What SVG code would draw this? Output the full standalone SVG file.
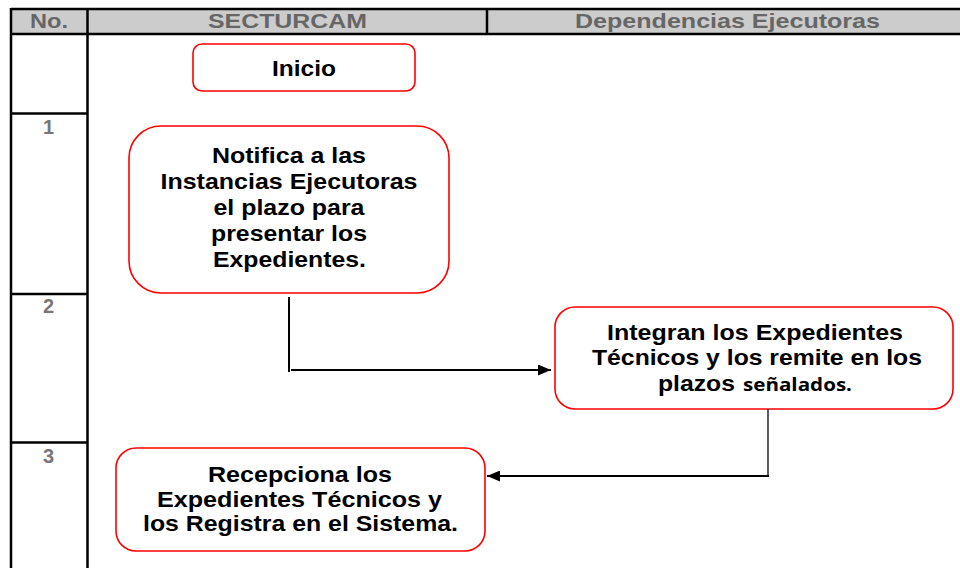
<svg xmlns="http://www.w3.org/2000/svg" width="960" height="568" viewBox="0 0 960 568">
  <defs>
    <style>
      .grid { stroke: #000; stroke-width: 2.5; fill: none; }
      .hdr { font-family: "Liberation Sans", Arial, sans-serif; font-weight: bold; font-size: 21px; fill: #666; text-anchor: middle; }
      .num { font-family: "Liberation Sans", Arial, sans-serif; font-weight: bold; font-size: 20px; fill: #777; text-anchor: middle; }
      .box { fill: #fff; stroke: #ff0000; stroke-width: 1.6; }
      .lbl { font-family: "Liberation Sans", Arial, sans-serif; font-weight: bold; font-size: 22px; fill: #000; text-anchor: middle; }
      .cal { font-family: "Open Sans", "Liberation Sans", sans-serif; font-weight: bold; font-size: 17px; }
      .conn { stroke: #000; stroke-width: 2; fill: none; }
    </style>
    <marker id="arrow" markerWidth="13" markerHeight="11" refX="13" refY="5.5" orient="auto" markerUnits="userSpaceOnUse">
      <path d="M0,0 L13,5.5 L0,11 Z" fill="#000"/>
    </marker>
  </defs>
  <rect width="960" height="568" fill="#fff"/>

  <g id="table">
    <rect x="11" y="9" width="960" height="25" fill="#cccccc"/>
    <line class="grid" x1="11" y1="9" x2="962" y2="9"/>
    <line class="grid" x1="11" y1="34" x2="962" y2="34"/>
    <line class="grid" x1="11" y1="8" x2="11" y2="568"/>
    <line class="grid" x1="87.5" y1="8" x2="87.5" y2="568"/>
    <line class="grid" x1="487" y1="8" x2="487" y2="35"/>
    <line class="grid" x1="11" y1="113.5" x2="87.5" y2="113.5"/>
    <line class="grid" x1="11" y1="294" x2="87.5" y2="294"/>
    <line class="grid" x1="11" y1="442.5" x2="87.5" y2="442.5"/>
    <text class="hdr" x="49" y="28" textLength="38" lengthAdjust="spacingAndGlyphs">No.</text>
    <text class="hdr" x="287.5" y="28" textLength="159" lengthAdjust="spacingAndGlyphs">SECTURCAM</text>
    <text class="hdr" x="727.5" y="28" textLength="305" lengthAdjust="spacingAndGlyphs">Dependencias Ejecutoras</text>
    <text class="num" x="48.5" y="134">1</text>
    <text class="num" x="48.5" y="313">2</text>
    <text class="num" x="48.5" y="463">3</text>
  </g>

  <g id="inicio">
    <rect class="box" x="193" y="44" width="222" height="47" rx="9"/>
    <text class="lbl" x="304" y="76" textLength="64" lengthAdjust="spacingAndGlyphs">Inicio</text>
  </g>

  <g id="notifica">
    <rect class="box" x="129" y="126" width="320" height="167" rx="32"/>
    <text class="lbl" x="289" y="163" textLength="154" lengthAdjust="spacingAndGlyphs">Notifica a las</text>
    <text class="lbl" x="289" y="189" textLength="257" lengthAdjust="spacingAndGlyphs">Instancias Ejecutoras</text>
    <text class="lbl" x="289" y="214.5" textLength="151" lengthAdjust="spacingAndGlyphs">el plazo para</text>
    <text class="lbl" x="289" y="240.5" textLength="156" lengthAdjust="spacingAndGlyphs">presentar los</text>
    <text class="lbl" x="289.5" y="266.5" textLength="153" lengthAdjust="spacingAndGlyphs">Expedientes.</text>
  </g>

  <g id="integran">
    <rect class="box" x="555" y="307" width="398" height="102" rx="20"/>
    <text class="lbl" x="755" y="340" textLength="296" lengthAdjust="spacingAndGlyphs">Integran los Expedientes</text>
    <text class="lbl" x="757" y="365" textLength="330" lengthAdjust="spacingAndGlyphs">Técnicos y los remite en los</text>
    <text class="lbl" x="658" y="391" style="text-anchor:start" textLength="77" lengthAdjust="spacingAndGlyphs">plazos</text>
    <text class="lbl cal" x="743" y="391" style="text-anchor:start" textLength="109" lengthAdjust="spacingAndGlyphs">señalados.</text>
  </g>

  <g id="recepciona">
    <rect class="box" x="116" y="448" width="369" height="103" rx="20"/>
    <text class="lbl" x="300" y="481.5" textLength="184" lengthAdjust="spacingAndGlyphs">Recepciona los</text>
    <text class="lbl" x="299.5" y="506.5" textLength="285" lengthAdjust="spacingAndGlyphs">Expedientes Técnicos y</text>
    <text class="lbl" x="300.5" y="530.5" textLength="315" lengthAdjust="spacingAndGlyphs">los Registra en el Sistema.</text>
  </g>

  <g id="connectors">
    <line class="conn" x1="289" y1="297" x2="289" y2="372"/>
    <line class="conn" x1="291" y1="370" x2="551" y2="370" marker-end="url(#arrow)"/>
    <line x1="768" y1="409" x2="768" y2="476" stroke="#333" stroke-width="1.6"/>
    <line class="conn" x1="769" y1="476" x2="487" y2="476" marker-end="url(#arrow)"/>
  </g>
</svg>
